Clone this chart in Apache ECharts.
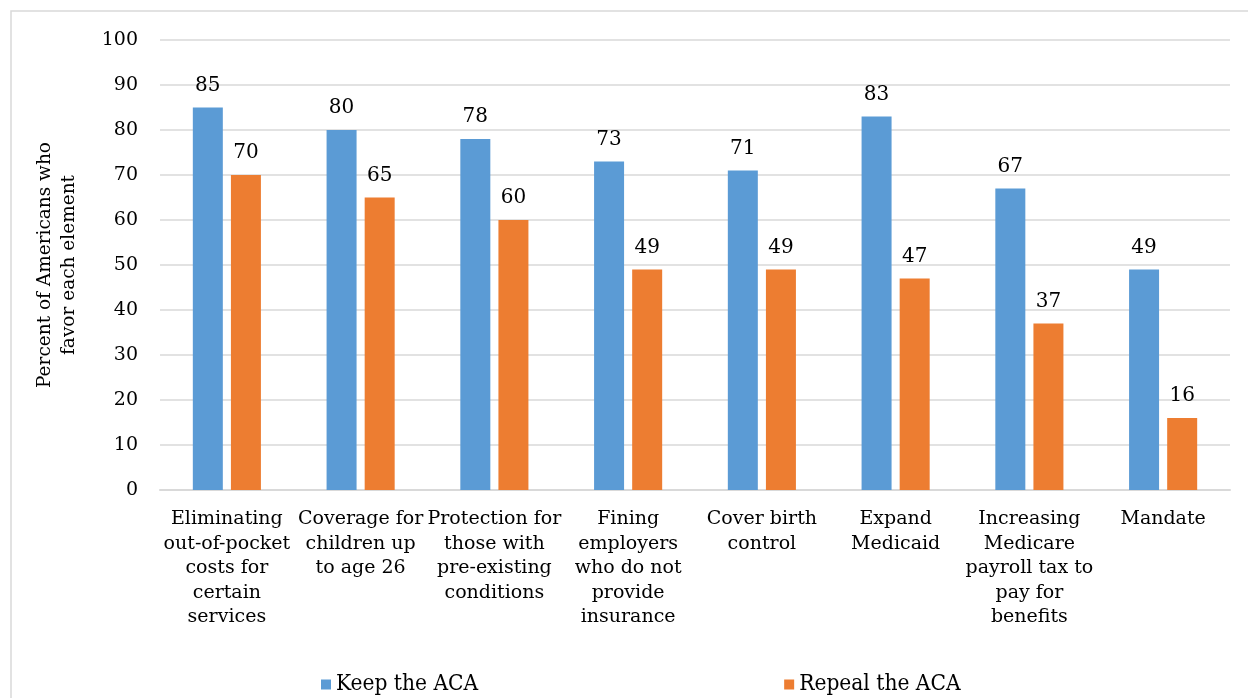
<!DOCTYPE html>
<html>
<head>
<meta charset="utf-8">
<script src="https://cdn.jsdelivr.net/npm/echarts@6/dist/echarts.min.js"></script>
<style>
  html, body { margin: 0; padding: 0; background: #fff; }
  #chart { width: 1248px; height: 698px; }
</style>
</head>
<body>
<div id="chart"></div>
<script>
// ACA elements and the share of Americans who favour each one
const categories = [
  'Eliminating\nout-of-pocket\ncosts for\ncertain\nservices',
  'Coverage for\nchildren up\nto age 26',
  'Protection for\nthose with\npre-existing\nconditions',
  'Fining\nemployers\nwho do not\nprovide\ninsurance',
  'Cover birth\ncontrol',
  'Expand\nMedicaid',
  'Increasing\nMedicare\npayroll tax to\npay for\nbenefits',
  'Mandate'
];
const keepValues = [85, 80, 78, 73, 71, 83, 67, 49];
const repealValues = [70, 65, 60, 49, 49, 47, 37, 16];
const seriesNames = ['Keep the ACA', 'Repeal the ACA'];
const yAxisTitle = 'Percent of Americans who\nfavor each element';

const FONT = 'DejaVu Serif';
const chart = echarts.init(document.getElementById('chart'), null, { renderer: 'canvas' });

const labelStyle = {
  show: true,
  position: 'top',
  distance: 12,
  color: '#000',
  fontFamily: FONT,
  fontSize: 20
};

chart.setOption({
  animation: false,
  backgroundColor: '#fff',
  graphic: [{
    type: 'rect',
    shape: { x: 11, y: 11, width: 1260, height: 720 },
    style: { fill: 'none', stroke: '#d9d9d9', lineWidth: 1.5 },
    silent: true
  }],
  grid: { left: 160, right: 18, top: 40, bottom: 208, containLabel: false },
  legend: {
    data: seriesNames,
    top: 668,
    left: 316,
    itemWidth: 10,
    itemHeight: 10,
    itemGap: 306,
    icon: 'rect',
    textStyle: { fontFamily: 'DejaVu Serif Condensed', fontSize: 22.5, color: '#000' }
  },
  xAxis: {
    type: 'category',
    data: categories,
    axisLine: { lineStyle: { color: '#d9d9d9', width: 2 } },
    axisTick: { show: false },
    axisLabel: {
      interval: 0,
      margin: 17,
      color: '#000',
      fontFamily: FONT,
      fontSize: 19,
      lineHeight: 24.5
    }
  },
  yAxis: {
    type: 'value',
    min: 0,
    max: 100,
    interval: 10,
    name: yAxisTitle,
    nameLocation: 'middle',
    nameGap: 79,
    nameRotate: 90,
    nameTextStyle: { fontFamily: FONT, fontSize: 18.5, color: '#000', lineHeight: 24 },
    axisLine: { show: false },
    axisTick: { show: false },
    splitLine: { lineStyle: { color: '#d9d9d9', width: 1.5 } },
    axisLabel: { color: '#000', fontFamily: FONT, fontSize: 19, margin: 22 }
  },
  series: [
    {
      name: seriesNames[0],
      type: 'bar',
      data: keepValues,
      barWidth: 30,
      barGap: '27%',
      itemStyle: { color: '#5b9bd5' },
      label: labelStyle
    },
    {
      name: seriesNames[1],
      type: 'bar',
      data: repealValues,
      barWidth: 30,
      itemStyle: { color: '#ed7d31' },
      label: labelStyle
    }
  ]
});
</script>
</body>
</html>
